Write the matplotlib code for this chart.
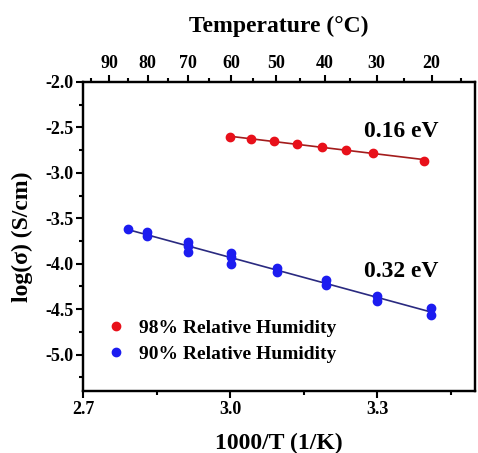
import numpy as np
import matplotlib
matplotlib.use('Agg')
import matplotlib.pyplot as plt

plt.rcParams['font.family'] = ['Liberation Serif', 'DejaVu Serif']
plt.rcParams['font.weight'] = 'bold'

# 98% RH : 1000/T and log(sigma)
x98 = [3.000, 3.043, 3.089, 3.136, 3.187, 3.237, 3.292, 3.396]
y98 = [-2.61, -2.63, -2.65, -2.68, -2.71, -2.745, -2.78, -2.87]

# 90% RH : several repeat measurements per temperature
x90 = [2.792, 2.831, 2.831, 2.914, 2.914, 2.914, 3.001, 3.001, 3.001,
       3.095, 3.095, 3.195, 3.195, 3.299, 3.299, 3.410, 3.410]
y90 = [-3.62, -3.65, -3.69, -3.76, -3.81, -3.87, -3.88, -3.93, -4.00,
       -4.05, -4.09, -4.18, -4.23, -4.35, -4.41, -4.49, -4.56]

temp_ticks = [90, 80, 70, 60, 50, 40, 30, 20]
temp_minor = [95, 85, 75, 65, 55, 45, 35, 25, 15]

fig = plt.figure(figsize=(4.78, 4.53), dpi=100)
ax = fig.add_axes([0.174, 0.137, 0.820, 0.682])

# fitted lines
p98 = np.polyfit(x98, y98, 1)
p90 = np.polyfit(x90, y90, 1)
xl98 = np.array([min(x98), max(x98)])
xl90 = np.array([min(x90), max(x90)])
ax.plot(xl98, np.polyval(p98, xl98), color='#a31c1c', lw=1.2, zorder=2)
ax.plot(xl90, np.polyval(p90, xl90), color='#2a2a80', lw=1.2, zorder=2)

ax.plot(x98, y98, 'o', color='#e8101a', ms=6, label='98% Relative Humidity', zorder=3)
ax.plot(x90, y90, 'o', color='#1c1cf0', ms=6, label='90% Relative Humidity', zorder=3)

ax.text(3.35, -2.55, '0.16 eV', fontsize=17, fontweight='bold', ha='center', va='center')
ax.text(3.35, -4.09, '0.32 eV', fontsize=17, fontweight='bold', ha='center', va='center')

ax.set_xlim(2.7, 3.5)
ax.set_ylim(-5.4, -2.0)
ax.set_xticks([2.7, 3.0, 3.3])
ax.set_xticks([2.85, 3.15, 3.45], minor=True)
ax.set_yticks([-2.0, -2.5, -3.0, -3.5, -4.0, -4.5, -5.0])
ax.set_yticks([-2.25, -2.75, -3.25, -3.75, -4.25, -4.75, -5.25], minor=True)
ax.set_xticklabels(['2.7', '3.0', '3.3'])
ax.set_yticklabels(['-2.0', '-2.5', '-3.0', '-3.5', '-4.0', '-4.5', '-5.0'])
ax.tick_params(which='both', direction='out', width=1.5, labelsize=13, right=False, top=False)
ax.tick_params(which='major', length=5, pad=2)
ax.tick_params(which='minor', length=3)
for s in ax.spines.values():
    s.set_linewidth(1.6)

ax.set_xlabel('1000/T (1/K)', fontsize=17, fontweight='bold', labelpad=11)
ax.set_ylabel('log(σ) (S/cm)', fontsize=17, fontweight='bold', labelpad=9)

# top temperature axis
ax2 = ax.twiny()
ax2.set_xlim(ax.get_xlim())
ax2.set_xticks([1000 / (t + 273.15) for t in temp_ticks])
ax2.set_xticklabels([str(t) for t in temp_ticks])
ax2.set_xticks([1000 / (t + 273.15) for t in temp_minor], minor=True)
ax2.tick_params(which='both', direction='out', width=1.5, labelsize=13)
ax2.tick_params(which='major', length=5, pad=2)
ax2.tick_params(which='minor', length=3)
ax2.set_xlabel('Temperature (°C)', fontsize=17, fontweight='bold', labelpad=17)
for s in ax2.spines.values():
    s.set_linewidth(1.6)

leg = ax.legend(loc='lower left', bbox_to_anchor=(0.01, 0.035), frameon=False,
                prop={'size': 14, 'weight': 'bold'}, handletextpad=0.55,
                handlelength=1.2, labelspacing=0.42)

fig.savefig('out.png', dpi=100)
